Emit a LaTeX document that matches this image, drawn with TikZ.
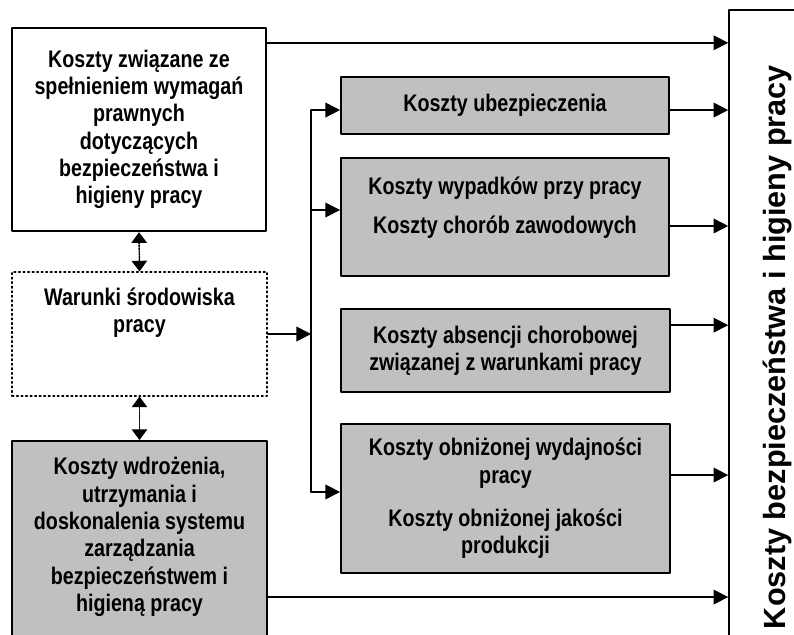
\documentclass[tikz,border=0pt]{standalone}
\usepackage{fontspec}
\setmainfont{Liberation Sans}
\newfontfamily\narrowfont{Liberation Sans}[FakeStretch=0.82]
\usetikzlibrary{arrows.meta}
\definecolor{boxgray}{RGB}{192,192,192}

\begin{document}
\begin{tikzpicture}[line cap=round,line join=round,>={Triangle[length=11pt,width=11pt]},x=0.75pt,y=-0.75pt,
  box/.style={draw,line width=1.4pt,inner sep=0pt,align=center,font=\narrowfont\bfseries\fontsize{18}{20.5}\selectfont},
  graybox/.style={box,fill=boxgray},
  boxtext/.style={inner sep=0pt,align=center,font=\narrowfont\bfseries\fontsize{18}{20.5}\selectfont},
  link/.style={line width=1.2pt},
  dotlink/.style={line width=1.1pt,densely dotted,<->,>={Triangle[length=8pt,width=11.5pt]}}]
\useasboundingbox (0,0) rectangle (794,635);
\clip (0,0) rectangle (794,635);
\node[box,line width=1.8pt,minimum width=190.5pt,minimum height=152.25pt] (prawne) at (139,129.5) {Koszty związane ze\\spełnieniem wymagań\\prawnych\\dotyczących\\bezpieczeństwa i\\higieny pracy};
\node[box,dotted,line width=0.8pt,minimum width=191.25pt,minimum height=93pt] (war) at (139.5,334) {};
\node[boxtext] (wartxt) at (139.5,312.5) {Warunki środowiska\\pracy};
\node[graybox,minimum width=191.25pt,minimum height=164.25pt] (wdr) at (139.5,550.5) {};
\node[boxtext] (wdrtxt) at (139.5,537) {Koszty wdrożenia,\\utrzymania i\\doskonalenia systemu\\zarządzania\\bezpieczeństwem i\\higieną pracy};
\node[graybox,minimum width=246pt,minimum height=42.75pt] (ubezp) at (505,105.5) {Koszty ubezpieczenia};
\node[graybox,minimum width=246pt,minimum height=88.5pt] (wyp) at (505,217) {};
\node[boxtext] (wyptxt) at (505,207.5) {Koszty wypadków przy pracy\\[9pt]Koszty chorób zawodowych};
\node[graybox,minimum width=246.75pt,minimum height=62.25pt] (absen) at (505.5,350.5) {Koszty absencji chorobowej\\związanej z warunkami pracy};
\node[graybox,minimum width=246.75pt,minimum height=111.75pt] (wyd) at (505.5,498.5) {Koszty obniżonej wydajności\\pracy\\[12pt]Koszty obniżonej jakości\\produkcji};
\node[box,line width=1.2pt,minimum width=83.25pt,minimum height=505.5pt] (suma) at (784.5,347) {};
\node[rotate=90,inner sep=0pt,font=\bfseries\fontsize{23}{26}\selectfont] (sumatxt) at (778,347) {Koszty bezpieczeństwa i higieny pracy};
\coordinate (bus) at (311,0);
\coordinate (outP) at ([yshift=-12pt]prawne.north east);
\coordinate (outU) at ([yshift=-3.4pt]ubezp.east);
\coordinate (outW) at ([yshift=-6.75pt]wyp.east);
\coordinate (outA) at ([yshift=19pt]absen.east);
\coordinate (outD) at ([yshift=17.6pt]wyd.east);
\coordinate (outK) at ([yshift=-117.75pt]wdr.north east);
\coordinate (inU) at ([yshift=-3.4pt]ubezp.west);
\coordinate (inW) at ([yshift=5.25pt]wyp.west);
\coordinate (inD) at ([yshift=4.9pt]wyd.west);
\draw[link,->] (outP) -- (outP -| suma.west);
\draw[link,->] (outU) -- (outU -| suma.west);
\draw[link,->] (outW) -- (outW -| suma.west);
\draw[link,->] (outA) -- (outA -| suma.west);
\draw[link,->] (outD) -- (outD -| suma.west);
\draw[link,->] (outK) -- (outK -| suma.west);
\draw[link,->] (war.east) -- (war.east -| bus);
\draw[link] (inU -| bus) -- (inD -| bus);
\draw[link,->] (inU -| bus) -- (inU);
\draw[link,->] (inW -| bus) -- (inW);
\draw[link,->] (inD -| bus) -- (inD);
\draw[dotlink] (prawne.south) -- (war.north);
\draw[dotlink] (war.south) -- (wdr.north);
\end{tikzpicture}
\end{document}
